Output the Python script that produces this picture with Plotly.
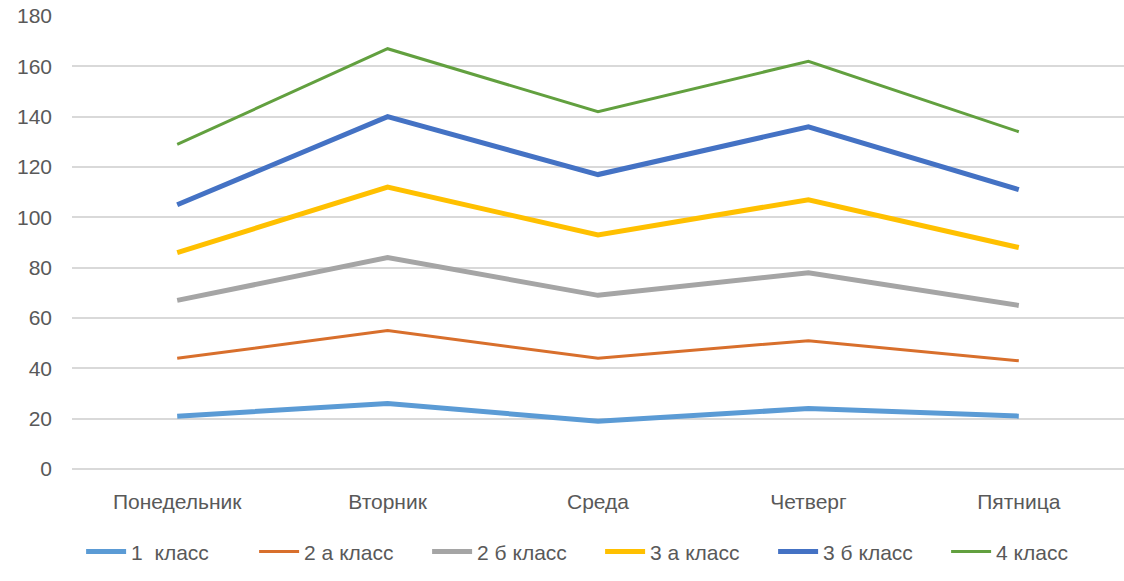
import plotly.graph_objects as go

days = ["Понедельник", "Вторник", "Среда", "Четверг", "Пятница"]
series_names = ["1  класс", "2 а класс", "2 б класс", "3 а класс", "3 б класс", "4 класс"]
class_1 = [21, 26, 19, 24, 21]
class_2a = [44, 55, 44, 51, 43]
class_2b = [67, 84, 69, 78, 65]
class_3a = [86, 112, 93, 107, 88]
class_3b = [105, 140, 117, 136, 111]
class_4 = [129, 167, 142, 162, 134]
y_ticks = [0, 20, 40, 60, 80, 100, 120, 140, 160, 180]

values = [class_1, class_2a, class_2b, class_3a, class_3b, class_4]
colors = ["#5B9BD5", "#D86F2C", "#A5A5A5", "#FFC000", "#4472C4", "#62A03F"]
widths = [5, 3, 5, 5, 5, 3]

fig = go.Figure()
for name, vals, c, w in zip(series_names, values, colors, widths):
    fig.add_trace(go.Scatter(x=days, y=vals, name=name, mode="lines",
                             line=dict(color=c, width=w)))

font_family = "Liberation Sans, Arial, sans-serif"
fig.update_layout(
    width=1124, height=581,
    margin=dict(l=72, r=0, t=16, b=112),
    plot_bgcolor="white", paper_bgcolor="white",
    font=dict(family=font_family, size=21, color="#595959"),
    legend=dict(orientation="h", x=0.502, xanchor="center", y=-0.183, yanchor="middle",
                font=dict(size=21, color="#595959"), entrywidth=118, itemwidth=40),
    showlegend=True,
)
fig.update_xaxes(range=[-0.5, 4.5], showgrid=False, showline=False, ticks="",
                 ticklabelstandoff=18, tickfont=dict(size=21), automargin=False)
fig.update_yaxes(range=[0, 180], tickvals=y_ticks, showgrid=True, gridcolor="#D9D9D9",
                 gridwidth=1.5, zeroline=True, zerolinecolor="#D9D9D9", zerolinewidth=1.5,
                 showline=False, ticks="", ticklabelstandoff=19, tickfont=dict(size=21),
                 automargin=False)

fig.write_html("out.html", config={"displayModeBar": False},
               post_script="document.body.style.margin='0';document.body.style.overflow='hidden';")
